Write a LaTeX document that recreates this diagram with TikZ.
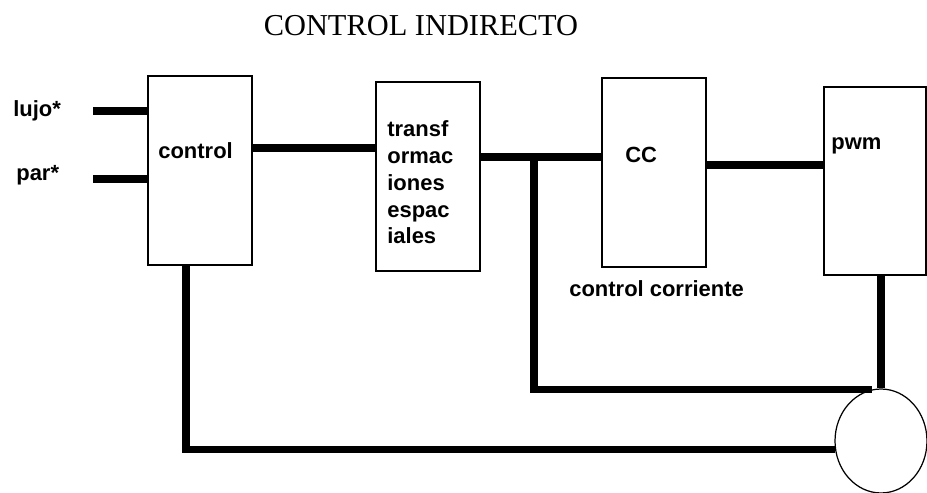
\documentclass[tikz,border=0pt]{standalone}
\usepackage{fontspec}
\setmainfont{Liberation Serif}
\setsansfont{Liberation Sans}
\usetikzlibrary{shapes.geometric}

\tikzset{blk/.style={draw, line width=1pt, minimum width=2.08cm, minimum height=3.78cm, inner sep=0pt},
  wire/.style={line width=4pt},
  lbl/.style={font=\sffamily\bfseries\fontsize{12.5}{15.3}\selectfont, inner sep=0pt, anchor=base west}}

\begin{document}
\begin{tikzpicture}[x=0.02cm, y=-0.02cm]
\useasboundingbox (0,0) rectangle (927,493);
\node[font=\fontsize{17.3}{20}\selectfont, anchor=base] (title) at (421,36) {CONTROL INDIRECTO};
\node[blk] (ctrl) at (200,170.5) {};
\node[blk] (tr) at (428,176.5) {};
\node[blk] (cc) at (654,172.5) {};
\node[blk, minimum width=2.04cm, minimum height=3.76cm] (pwm) at (875,181) {};
\node[draw, ellipse, line width=.7pt, minimum width=1.84cm, minimum height=2.08cm, inner sep=0pt] (m) at (881,441) {};
\node[lbl] (lujo) at (13,117) {lujo*};
\node[lbl] (par) at (16,181) {par*};
\node[lbl] (ctrltxt) at (158,159) {control};
\node[lbl, align=left] (trtxt) at (387,244) {transf\\ormac\\iones\\espac\\iales};
\node[lbl] (cctxt) at (625,163) {CC};
\node[lbl] (cclbl) at (569,297) {control corriente};
\node[lbl] (pwmtxt) at (831,150) {pwm};
\coordinate (lujoin) at (93,111);
\coordinate (parin) at (93,179);
\coordinate (c1) at (0,148);
\coordinate (c2) at (0,165);
\coordinate (j1) at (534,157);
\coordinate (fb) at (186,0);
\draw[wire] (lujoin) -- (lujoin -| ctrl.west);
\draw[wire] (parin) -- (parin -| ctrl.west);
\draw[wire] (c1 -| ctrl.east) -- (c1 -| tr.west);
\draw[wire] (j1 -| tr.east) -- (j1 -| cc.west);
\draw[wire] (c2 -| cc.east) -- (c2 -| pwm.west);
\draw[wire] (j1) |- (m.100);
\draw[wire] (pwm.south -| m.north) -- (m.north);
\draw[wire] (ctrl.south -| fb) |- (m.190);
\end{tikzpicture}
\end{document}
